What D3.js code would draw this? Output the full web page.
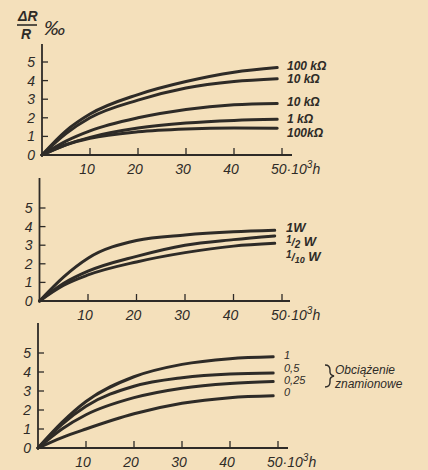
<!DOCTYPE html>
<html>
<head>
<meta charset="utf-8">
<script src="https://cdn.jsdelivr.net/npm/d3@7"></script>
<style>
  body { margin: 0; background: #f4e0bb; }
  svg { display: block; }
</style>
</head>
<body>
<div id="chart"></div>
<script>
var hours = [0, 5, 10, 20, 30, 40, 49];
var hours2 = [0, 5, 10, 20, 30, 40, 48.5];
var xTicks = [10, 20, 30, 40];
var yTicks = [0, 1, 2, 3, 4, 5];

// panel 1 - resistance values
var p1_100kA = [0, 1.3, 2.2, 3.25, 3.95, 4.45, 4.7];
var p1_10kA  = [0, 1.15, 2.0, 2.95, 3.6, 3.95, 4.1];
var p1_10kB  = [0, 0.75, 1.3, 2.0, 2.45, 2.7, 2.77];
var p1_1k    = [0, 0.55, 0.95, 1.45, 1.72, 1.86, 1.92];
var p1_100kB = [0, 0.55, 0.9, 1.25, 1.4, 1.45, 1.44];
var p1_labels = ["100 kΩ", "10  kΩ", "10 kΩ", "1 kΩ", "100kΩ"];

// panel 2 - power rating
var p2_1W    = [0, 1.3, 2.3, 3.25, 3.55, 3.72, 3.8];
var p2_half  = [0, 0.95, 1.6, 2.4, 3.0, 3.3, 3.5];
var p2_tenth = [0, 0.85, 1.4, 2.1, 2.6, 2.95, 3.1];

// panel 3 - load (fraction of rated)
var p3_1    = [0, 1.35, 2.45, 3.75, 4.4, 4.7, 4.8];
var p3_05   = [0, 1.25, 2.2, 3.25, 3.7, 3.9, 3.95];
var p3_025  = [0, 1.0, 1.75, 2.65, 3.15, 3.4, 3.5];
var p3_0    = [0, 0.55, 1.0, 1.8, 2.35, 2.65, 2.75];
var p3_labels = ["1", "0,5", "0,25", "0"];

var ink = "#2e2b27";
var font = "'Liberation Sans', Arial, sans-serif";

var svg = d3.select("#chart")
  .append("svg")
  .attr("width", 428)
  .attr("height", 470);

function drawPanel(p) {
  var x = d3.scaleLinear().domain([0, 50]).range([p.x0, p.x50]);
  var y = d3.scaleLinear().domain([0, 5]).range([p.y0, p.y5]);
  var g = svg.append("g");

  // axes
  g.append("line")
    .attr("x1", x(0)).attr("x2", x(0))
    .attr("y1", y(0)).attr("y2", p.top)
    .attr("stroke", ink).attr("stroke-width", 1.8);
  g.append("line")
    .attr("x1", x(0)).attr("x2", p.right)
    .attr("y1", y(0)).attr("y2", y(0))
    .attr("stroke", ink).attr("stroke-width", 1.8);

  // y ticks
  g.selectAll(".yt").data(yTicks.slice(1)).enter().append("line")
    .attr("x1", x(0)).attr("x2", x(0) + 6)
    .attr("y1", d => y(d)).attr("y2", d => y(d))
    .attr("stroke", ink).attr("stroke-width", 1.3);
  g.selectAll(".yl").data(yTicks).enter().append("text")
    .attr("x", x(0) - 7)
    .attr("y", d => y(d) + 5)
    .attr("text-anchor", "end")
    .attr("font-family", font).attr("font-style", "italic")
    .attr("font-size", 14).attr("fill", ink)
    .text(d => d);

  // x ticks
  g.selectAll(".xt").data(xTicks.concat([50])).enter().append("line")
    .attr("x1", d => x(d)).attr("x2", d => x(d))
    .attr("y1", y(0)).attr("y2", y(0) - 7)
    .attr("stroke", ink).attr("stroke-width", 1.3);
  g.selectAll(".xl").data(xTicks).enter().append("text")
    .attr("x", d => x(d) - 3)
    .attr("y", y(0) + 19)
    .attr("text-anchor", "middle")
    .attr("font-family", font).attr("font-style", "italic")
    .attr("font-size", 14).attr("fill", ink)
    .text(d => d);
  var unit = g.append("text")
    .attr("x", x(50) - 11)
    .attr("y", y(0) + 19)
    .attr("font-family", font).attr("font-style", "italic")
    .attr("font-size", 14).attr("fill", ink)
    .text("50·10");
  unit.append("tspan").attr("dy", -6).attr("font-size", 10).text("3");
  unit.append("tspan").attr("dy", 6).text("h");

  // curves
  var line = d3.line()
    .x((d, i) => x(p.hours[i]))
    .y(d => y(d))
    .curve(d3.curveMonotoneX);
  g.selectAll(".curve").data(p.series).enter().append("path")
    .attr("d", line)
    .attr("fill", "none")
    .attr("stroke", ink)
    .attr("stroke-width", 3)
    .attr("stroke-linecap", "round");
  return g;
}

// title
svg.append("text")
  .attr("x", 18).attr("y", 21)
  .attr("font-family", font).attr("font-style", "italic").attr("font-weight", "bold")
  .attr("font-size", 14).attr("fill", ink)
  .text("ΔR");
svg.append("line")
  .attr("x1", 17).attr("x2", 37).attr("y1", 25).attr("y2", 25)
  .attr("stroke", ink).attr("stroke-width", 1.6);
svg.append("text")
  .attr("x", 21).attr("y", 39)
  .attr("font-family", font).attr("font-style", "italic").attr("font-weight", "bold")
  .attr("font-size", 14).attr("fill", ink)
  .text("R");
svg.append("text")
  .attr("x", 44).attr("y", 35)
  .attr("font-family", font).attr("font-style", "italic")
  .attr("font-size", 21).attr("fill", ink)
  .text("‰");

// panel 1
var g1 = drawPanel({x0: 42, x50: 282, y0: 155, y5: 62, top: 44, right: 292,
  hours: hours, series: [p1_100kA, p1_10kA, p1_10kB, p1_1k, p1_100kB]});
var p1_y = [66, 79, 102, 119, 133];
g1.selectAll(".lab").data(p1_labels).enter().append("text")
  .attr("x", 287).attr("y", (d, i) => p1_y[i] + 4)
  .attr("font-family", font).attr("font-style", "italic").attr("font-weight", "bold")
  .attr("font-size", 12).attr("fill", ink)
  .text(d => d);

// panel 2
var g2 = drawPanel({x0: 39.5, x50: 282, y0: 301, y5: 208, top: 178, right: 290,
  hours: hours2, series: [p2_1W, p2_half, p2_tenth]});
function labelText(g, xx, yy) {
  return g.append("text")
    .attr("x", xx).attr("y", yy)
    .attr("font-family", font).attr("font-style", "italic").attr("font-weight", "bold")
    .attr("font-size", 13).attr("fill", ink);
}
labelText(g2, 286, 232).text("1W");
var half = labelText(g2, 286, 246);
half.append("tspan").attr("font-size", 10).attr("dy", -3).text("1");
half.append("tspan").attr("font-size", 11).attr("dy", 3).text("/");
half.append("tspan").attr("font-size", 10).attr("dy", 2).text("2");
half.append("tspan").attr("dy", -2).text(" W");
var tenth = labelText(g2, 286, 261);
tenth.append("tspan").attr("font-size", 10).attr("dy", -3).text("1");
tenth.append("tspan").attr("font-size", 11).attr("dy", 3).text("/");
tenth.append("tspan").attr("font-size", 9).attr("dy", 2).text("10");
tenth.append("tspan").attr("dy", -2).text(" W");

// panel 3
var g3 = drawPanel({x0: 38, x50: 278, y0: 448, y5: 353, top: 323, right: 288,
  hours: hours, series: [p3_1, p3_05, p3_025, p3_0]});
var p3_y = [355, 368, 380, 392];
g3.selectAll(".lab").data(p3_labels).enter().append("text")
  .attr("x", 284).attr("y", (d, i) => p3_y[i] + 4)
  .attr("font-family", font).attr("font-style", "italic")
  .attr("font-size", 11).attr("fill", ink)
  .text(d => d);

// brace and note
svg.append("path")
  .attr("d", "M325,365 q5,0 5,5 l0,2 q0,3 4,4 q-4,1 -4,4 l0,2 q0,5 -5,5")
  .attr("fill", "none").attr("stroke", ink).attr("stroke-width", 1.4);
svg.append("text")
  .attr("x", 335).attr("y", 374)
  .attr("font-family", font).attr("font-style", "italic")
  .attr("font-size", 12).attr("fill", ink)
  .text("Obciążenie");
svg.append("text")
  .attr("x", 335).attr("y", 388)
  .attr("font-family", font).attr("font-style", "italic")
  .attr("font-size", 12).attr("fill", ink)
  .text("znamionowe");
</script>
</body>
</html>
